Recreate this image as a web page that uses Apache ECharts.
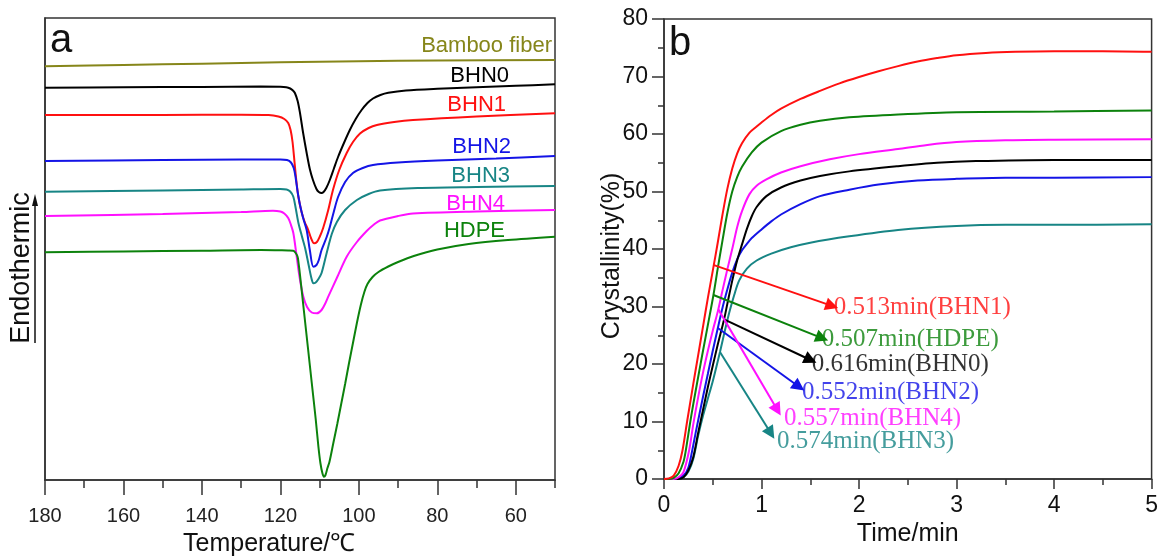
<!DOCTYPE html>
<html>
<head>
<meta charset="utf-8">
<style>
  html, body { margin: 0; padding: 0; background: #fff; }
  #chart { width: 1161px; height: 556px; }
</style>
<script src="https://cdn.jsdelivr.net/npm/echarts@6/dist/echarts.min.js"></script>
</head>
<body>
<div id="chart"></div>
<script>
// ---- panel a: DSC cooling curves, [temperature, offset heat flow] ----
const bambooFiber = [[180, 413.7], [160, 415], [140, 416.3], [120, 417.8], [100, 418.8], [80, 419.4], [50, 420]]
const bhn0Dsc = [[180, 392.3], [160, 392.8], [140, 393.1], [125, 393.4], [120, 393.3], [118.5, 392.8], [117.5, 391.5],
  [116.8, 389.5], [116.3, 387], [115.6, 379], [115, 367], [114.2, 347], [113.3, 327], [112.5, 311], [111.7, 300],
  [110.8, 291], [110.2, 288], [109.5, 287], [109, 288], [108.3, 292], [107.4, 300], [106.4, 311], [105.3, 323],
  [103.8, 337], [102.3, 350], [100.8, 361], [99.3, 370], [97.8, 377], [96.4, 381.5], [94.5, 385], [92.5, 387.2],
  [88, 389.5], [80, 391.2], [70, 392.7], [60, 394.2], [50, 395.7]]
const bhn1Dsc = [[180, 365], [150, 365], [130, 365.3], [123, 365], [120.5, 363.5], [119, 361], [118, 357], [117.4, 350],
  [116.9, 338], [116.4, 318], [115.9, 298], [115.4, 283], [114.6, 268], [113.8, 258], [112.9, 250], [112.2, 242],
  [111.4, 236.7], [110.7, 238], [110, 243], [109.1, 252], [107.8, 270], [106.6, 290], [105, 310], [103.1, 327],
  [101.5, 338], [99.7, 346.5], [97.5, 352], [95.4, 355], [91, 358], [86.2, 360], [70, 363.5], [50, 366.7]]
const bhn2Dsc = [[180, 319], [150, 320], [130, 320.5], [120, 320.5], [118.3, 320], [117.3, 317.5], [116.6, 312],
  [116.1, 302], [115.6, 288], [115, 275], [114.2, 262], [113.3, 250], [112.5, 230], [111.6, 213.3], [110.8, 215],
  [110.2, 220], [109.5, 230], [108.2, 243], [107.4, 253], [106.4, 268], [105.3, 283], [103.5, 298], [101.5, 307],
  [99, 312], [96.4, 315], [90, 317.5], [80, 319.5], [65, 321.5], [50, 324]]
const bhn3Dsc = [[180, 288.3], [150, 289.5], [130, 290.5], [120, 291], [118.4, 290.5], [117.5, 288.5], [116.7, 283.3],
  [116.1, 272], [115.4, 257], [114.6, 245], [113.7, 232], [112.8, 215], [112.1, 202], [111.6, 196.7], [111, 197.5],
  [110.3, 201], [109.5, 207], [108.2, 227], [106.9, 246], [105.6, 258], [103.5, 270], [100.5, 280], [97.5, 286],
  [94.6, 289.5], [85, 292], [70, 293], [50, 294]]
const bhn4Dsc = [[180, 264], [150, 266], [130, 268], [121.9, 269.3], [120, 268.5], [119, 266.5], [118, 262],
  [117.3, 255], [116.7, 247], [116, 228], [115.2, 205], [114.2, 184], [113.2, 173], [112, 167.5], [110.7, 166.7],
  [109.5, 170], [108.5, 177], [107.8, 183.3], [105.5, 203], [103.1, 223.3], [100.5, 238], [98, 249], [96.3, 255],
  [94.6, 259.5], [90, 264], [86.2, 266.5], [70, 268.5], [50, 270]]
const hdpeDsc = [[180, 227.7], [160, 228.5], [140, 229.3], [125, 230], [118, 229.5], [116.7, 229.3], [116.1, 227],
  [115.6, 223], [115.4, 218], [115, 205], [114, 169], [113, 133], [112, 97], [111, 61], [110.3, 33], [109.8, 17],
  [109.3, 7], [108.9, 3.3], [108.5, 5], [108, 12], [107.5, 18], [106.5, 37], [105.5, 56], [104.5, 76], [103.5, 96],
  [102.5, 117], [101.5, 137], [100.5, 157], [99.5, 175], [98.6, 188], [97.8, 196], [96.5, 203], [95, 208],
  [92.5, 213.5], [90, 218], [86, 224], [80, 230.5], [72, 236], [62, 240], [50, 243.3]]
const tempMajorTicks = [180, 160, 140, 120, 100, 80, 60]
const tempMinorTicks = [170, 150, 130, 110, 90, 70, 50]

// ---- panel b: relative crystallinity vs time, [min, %] ----
const bhn1Cryst = [[0, 0], [0.05, 0.1], [0.1, 0.6], [0.15, 2.3], [0.19, 5], [0.237, 10], [0.3, 16.5], [0.35, 21.5],
  [0.4, 26.5], [0.45, 31.5], [0.5, 36.2], [0.55, 41], [0.6, 46], [0.65, 50.5], [0.7, 54], [0.75, 56.6], [0.8, 58.4],
  [0.875, 60.2], [0.95, 61.3], [1.0, 62.0], [1.1, 63.3], [1.2, 64.4], [1.4, 66.1], [1.6, 67.5], [1.8, 68.8],
  [2.0, 69.9], [2.2, 70.9], [2.4, 71.8], [2.6, 72.6], [2.8, 73.2], [3.0, 73.7], [3.3, 74.1], [3.6, 74.3], [4, 74.4],
  [4.5, 74.4], [5, 74.3]]
const hdpeCryst = [[0, 0], [0.05, 0], [0.1, 0.2], [0.15, 1], [0.2, 3], [0.224, 5], [0.27, 10], [0.3, 13], [0.35, 17.7],
  [0.4, 22.3], [0.45, 26.8], [0.507, 32], [0.55, 36.5], [0.6, 41.5], [0.65, 46.3], [0.7, 50], [0.75, 52.5],
  [0.8, 54.3], [0.9, 56.8], [1.0, 58.5], [1.2, 60.5], [1.4, 61.6], [1.6, 62.3], [1.9, 62.9], [2.4, 63.4], [3, 63.8],
  [4, 63.9], [5, 64.1]]
const bhn4Cryst = [[0, 0], [0.1, 0], [0.15, 0.3], [0.2, 1.2], [0.258, 5], [0.3, 9.5], [0.35, 14.2], [0.4, 18.5],
  [0.45, 22.3], [0.5, 25.8], [0.557, 29.5], [0.6, 32.8], [0.65, 36.5], [0.705, 40.4], [0.75, 43.8], [0.8, 46.6],
  [0.875, 49.5], [0.95, 51], [1.05, 52.1], [1.2, 53.3], [1.4, 54.4], [1.7, 55.6], [2.0, 56.5], [2.4, 57.4],
  [2.7, 58.1], [3, 58.6], [3.5, 58.9], [4, 59], [5, 59.1]]
const bhn0Cryst = [[0, 0], [0.15, 0], [0.2, 0.3], [0.25, 1.5], [0.3, 3.8], [0.35, 8], [0.4, 12], [0.45, 16],
  [0.5, 19.7], [0.55, 23.3], [0.616, 27.75], [0.65, 30.5], [0.7, 34.5], [0.75, 38], [0.8, 40.8], [0.85, 43.5],
  [0.9, 45.7], [0.95, 47.3], [1.05, 49.2], [1.2, 50.7], [1.4, 51.9], [1.6, 52.7], [1.9, 53.5], [2.4, 54.4],
  [2.8, 55], [3.2, 55.3], [4, 55.5], [5, 55.5]]
const bhn2Cryst = [[0, 0], [0.12, 0], [0.2, 0.6], [0.25, 2], [0.29, 5], [0.33, 8.5], [0.4, 14.3], [0.45, 18.3],
  [0.5, 22.3], [0.552, 26.25], [0.6, 29.8], [0.65, 33], [0.7, 35.9], [0.75, 38.2], [0.8, 39.8], [0.85, 40.9],
  [0.9, 41.9], [1.0, 43.4], [1.1, 44.8], [1.2, 46], [1.4, 47.8], [1.6, 49.2], [1.9, 50.3], [2.2, 51.2],
  [2.6, 51.9], [3, 52.2], [3.5, 52.4], [4, 52.4], [5, 52.5]]
const bhn3Cryst = [[0, 0], [0.15, 0], [0.2, 0.3], [0.25, 1.3], [0.3, 3.5], [0.35, 7.5], [0.4, 11], [0.45, 14],
  [0.5, 17], [0.574, 22.1], [0.62, 25.5], [0.67, 29], [0.72, 32], [0.77, 34.5], [0.85, 36.6], [0.95, 38],
  [1.1, 39.2], [1.3, 40.3], [1.5, 41.1], [1.9, 42.2], [2.4, 43.3], [3, 44], [3.5, 44.2], [4, 44.2], [5, 44.3]]

// half-crystallization annotations: arrow from [t1/2, Xmax/2] to tip, text anchored at labelAt
const annoText = ['0.513min(BHN1)', '0.507min(HDPE)', '0.616min(BHN0)', '0.552min(BHN2)', '0.557min(BHN4)', '0.574min(BHN3)']
const annoStart = [[0.513, 37.2], [0.507, 32.0], [0.616, 27.75], [0.552, 26.25], [0.557, 29.5], [0.574, 22.1]]
const annoTip = [[1.722, 30.1], [1.621, 24.5], [1.503, 20.7], [1.384, 16.05], [1.163, 12.0], [1.096, 7.95]]
const annoLabelAt = [[1.74, 29.8], [1.617, 24.2], [1.516, 20.0], [1.414, 15.1], [1.231, 10.6], [1.16, 6.6]]

const C = {
  olive: '#86861a', black: '#000000', red: '#ff1010', blue: '#1414e6',
  teal: '#178585', magenta: '#ff10ff', green: '#0c820c'
}
const annoColors = [C.red, C.green, C.black, C.blue, C.magenta, C.teal]

const sans = 'Liberation Sans, Arial, sans-serif'
const serif = 'Liberation Serif, Times New Roman, serif'
const axisColor = '#333'

const dscLine = (data, color) => ({
  type: 'line', xAxisIndex: 0, yAxisIndex: 0, data,
  smooth: 0.3, showSymbol: false, silent: true,
  lineStyle: { color, width: 2 }
})

const crystLine = (name, data, color) => ({
  type: 'line', name, xAxisIndex: 2, yAxisIndex: 1, data,
  smooth: 0.3, showSymbol: false, silent: true,
  lineStyle: { color, width: 2 }
})

// one arrow per sample, drawn as markLine segments
const arrows = annoText.map((t, i) => [
  {
    coord: annoStart[i],
    lineStyle: { color: annoColors[i], width: 2, type: 'solid' },
    itemStyle: { color: annoColors[i] }
  },
  { coord: annoTip[i], itemStyle: { color: annoColors[i] } }
])

const chart = echarts.init(document.getElementById('chart'))

chart.setOption({
  animation: false,
  backgroundColor: '#fff',
  grid: [
    { left: 45, right: 606, top: 18, bottom: 76, show: true, borderColor: axisColor, borderWidth: 1.5 },
    { left: 664, right: 5, top: 19, bottom: 77, show: true, borderColor: axisColor, borderWidth: 1.5 }
  ],
  xAxis: [
    {
      gridIndex: 0, type: 'value', min: 50, max: 180, inverse: true,
      axisLine: { lineStyle: { color: axisColor, width: 1.5 } },
      axisTick: { customValues: tempMajorTicks, length: 15, lineStyle: { color: axisColor, width: 1.5 } },
      axisLabel: { customValues: tempMajorTicks, color: '#222', fontSize: 20, fontFamily: sans, margin: 26 },
      splitLine: { show: false }
    },
    {
      gridIndex: 0, type: 'value', min: 50, max: 180, inverse: true, position: 'bottom',
      axisLine: { show: false },
      axisTick: { customValues: tempMinorTicks, length: 8, lineStyle: { color: axisColor, width: 1.5 } },
      axisLabel: { show: false },
      splitLine: { show: false }
    },
    {
      gridIndex: 1, type: 'value', min: 0, max: 5, interval: 1,
      name: 'Time/min', nameLocation: 'middle', nameGap: 39,
      nameTextStyle: { color: '#111', fontSize: 25, fontFamily: sans },
      axisLine: { onZero: false, lineStyle: { color: axisColor, width: 1.5 } },
      axisTick: { length: 10, lineStyle: { color: axisColor, width: 1.5 } },
      minorTick: { show: true, splitNumber: 2, length: 6, lineStyle: { color: axisColor, width: 1.5 } },
      axisLabel: { color: '#111', fontSize: 23, fontFamily: sans, margin: 15 },
      splitLine: { show: false }
    }
  ],
  yAxis: [
    {
      gridIndex: 0, type: 'value', min: 0, max: 462,
      axisLine: { show: true, lineStyle: { color: axisColor, width: 1.5 } },
      axisTick: { show: false }, axisLabel: { show: false }, splitLine: { show: false }
    },
    {
      gridIndex: 1, type: 'value', min: 0, max: 80, interval: 10,
      axisLine: { show: true, onZero: false, lineStyle: { color: axisColor, width: 1.5 } },
      axisTick: { length: 12, lineStyle: { color: axisColor, width: 1.5 } },
      minorTick: { show: true, splitNumber: 2, length: 6, lineStyle: { color: axisColor, width: 1.5 } },
      axisLabel: { color: '#111', fontSize: 23, fontFamily: sans, margin: 16 },
      splitLine: { show: false }
    }
  ],
  series: [
    dscLine(bambooFiber, C.olive),
    dscLine(bhn0Dsc, C.black),
    dscLine(bhn1Dsc, C.red),
    dscLine(bhn2Dsc, C.blue),
    dscLine(bhn3Dsc, C.teal),
    dscLine(bhn4Dsc, C.magenta),
    dscLine(hdpeDsc, C.green),
    crystLine('BHN3', bhn3Cryst, C.teal),
    crystLine('BHN2', bhn2Cryst, C.blue),
    crystLine('BHN0', bhn0Cryst, C.black),
    crystLine('BHN4', bhn4Cryst, C.magenta),
    crystLine('HDPE', hdpeCryst, C.green),
    {
      ...crystLine('BHN1', bhn1Cryst, C.red),
      markLine: {
        silent: true, animation: false,
        symbol: ['none', 'triangle'], symbolSize: 13,
        label: { show: false },
        emphasis: { disabled: true },
        data: arrows
      }
    },
    {
      type: 'scatter', xAxisIndex: 2, yAxisIndex: 1, symbolSize: 0, silent: true,
      data: annoText.map((t, i) => ({
        name: t, value: annoLabelAt[i],
        label: { color: annoColors[i] }
      })),
      label: {
        show: true, position: 'right', distance: 0,
        formatter: p => p.name, fontSize: 25, fontFamily: serif
      }
    }
  ],
  graphic: [
    { type: 'text', x: 50, y: 41, style: { text: 'a', font: '40px ' + sans, fill: '#111', textVerticalAlign: 'middle' } },
    { type: 'text', x: 669, y: 44, style: { text: 'b', font: '40px ' + sans, fill: '#111', textVerticalAlign: 'middle' } },
    // curve names in panel a
    { type: 'text', x: 552, y: 46, style: { text: 'Bamboo fiber', font: '22px ' + sans, fill: C.olive, textAlign: 'right', textVerticalAlign: 'middle' } },
    { type: 'text', x: 509, y: 76, style: { text: 'BHN0', font: '22px ' + sans, fill: C.black, textAlign: 'right', textVerticalAlign: 'middle' } },
    { type: 'text', x: 506, y: 105, style: { text: 'BHN1', font: '22px ' + sans, fill: C.red, textAlign: 'right', textVerticalAlign: 'middle' } },
    { type: 'text', x: 511, y: 147, style: { text: 'BHN2', font: '22px ' + sans, fill: C.blue, textAlign: 'right', textVerticalAlign: 'middle' } },
    { type: 'text', x: 510, y: 176, style: { text: 'BHN3', font: '22px ' + sans, fill: C.teal, textAlign: 'right', textVerticalAlign: 'middle' } },
    { type: 'text', x: 505, y: 204, style: { text: 'BHN4', font: '22px ' + sans, fill: C.magenta, textAlign: 'right', textVerticalAlign: 'middle' } },
    { type: 'text', x: 505, y: 231, style: { text: 'HDPE', font: '22px ' + sans, fill: C.green, textAlign: 'right', textVerticalAlign: 'middle' } },
    // axis titles
    { type: 'text', x: 183, y: 544, style: { text: 'Temperature/℃', font: '25px ' + sans, fill: '#111', textVerticalAlign: 'middle' } },
    { type: 'text', x: 22, y: 268, rotation: Math.PI / 2, style: { text: 'Endothermic', font: '27px ' + sans, fill: '#111', textAlign: 'center', textVerticalAlign: 'middle' } },
    { type: 'line', shape: { x1: 35, y1: 343, x2: 35, y2: 203 }, style: { stroke: '#111', lineWidth: 1.5 } },
    { type: 'polygon', shape: { points: [[35, 194], [32, 206], [38, 206]] }, style: { fill: '#111' } },
    { type: 'text', x: 612, y: 256, rotation: Math.PI / 2, style: { text: 'Crystallinity(%)', font: '25px ' + sans, fill: '#111', textAlign: 'center', textVerticalAlign: 'middle' } }
  ]
})

window.addEventListener('resize', () => chart.resize())
</script>
</body>
</html>
